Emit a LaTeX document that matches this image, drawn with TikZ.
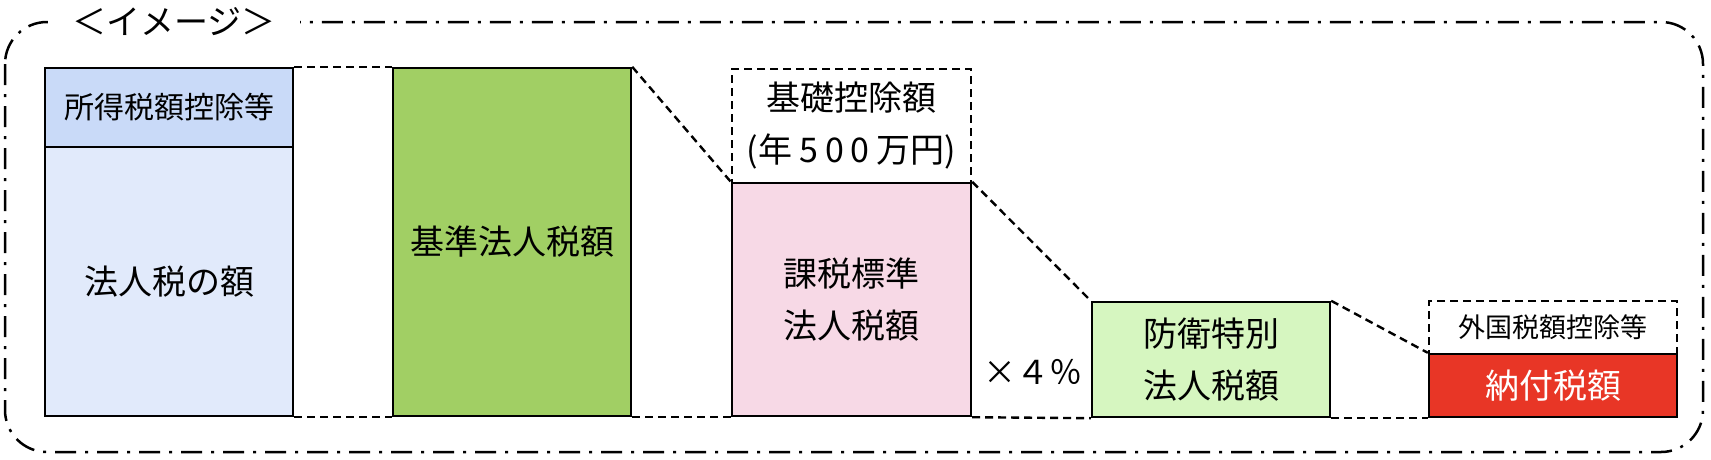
\documentclass[tikz,border=0pt]{standalone}
\usepackage{fontspec}
\setmainfont{Noto Sans CJK JP}
\usepackage{tikz}
\usetikzlibrary{positioning,calc}
\definecolor{deductblue}{RGB}{201,218,248}
\definecolor{paleblue}{RGB}{225,234,251}
\definecolor{basegreen}{RGB}{161,207,100}
\definecolor{palepink}{RGB}{247,217,230}
\definecolor{palegreen}{RGB}{214,246,192}
\definecolor{payred}{RGB}{232,54,38}
\tikzstyle{taxbox}=[draw,rectangle,line width=2.4pt,inner sep=0pt,align=center,font=\fontsize{34}{52}\selectfont]
\tikzstyle{dashbox}=[taxbox,dash pattern=on 8pt off 5pt]
\tikzstyle{link}=[line width=2.4pt,dash pattern=on 8pt off 5pt]
\tikzstyle{frame}=[line width=2.5pt,rounded corners=42pt,dash pattern=on 21pt off 9pt on 3pt off 9pt]

\begin{document}
\begin{tikzpicture}[x=1pt,y=-1pt]
\useasboundingbox (0,0) rectangle (1711,459);
\draw[frame] (5,22) rectangle (1703,452);
\draw (174,22) node [fill=white,inner xsep=24pt,font=\fontsize{34}{40}\selectfont] (title) {＜イメージ＞};
% boxes
\draw (169,107.5) node [taxbox,fill=deductblue,minimum width=248pt,minimum height=79pt,font=\fontsize{30}{36}\selectfont] (deduct) {所得税額控除等};
\draw (169,281.5) node [taxbox,fill=paleblue,minimum width=248pt,minimum height=269pt] (corptax) {法人税の額};
\draw (512,242) node [taxbox,fill=basegreen,minimum width=238pt,minimum height=348pt] (basetax) {基準法人税額};
\draw (851.5,126) node [dashbox,minimum width=239pt,minimum height=114pt] (basic) {基礎控除額\\(年\hspace{7pt}5\hspace{7pt}0\hspace{7pt}0\hspace{7pt}万円)};
\draw (851.5,299.5) node [taxbox,fill=palepink,minimum width=239pt,minimum height=233pt] (stdtax) {課税標準\\法人税額};
\draw (1211,359.5) node [taxbox,fill=palegreen,minimum width=238pt,minimum height=115pt] (defense) {防衛特別\\法人税額};
\draw (1553,327.5) node [dashbox,minimum width=248pt,minimum height=53pt,font=\fontsize{27}{32}\selectfont] (foreign) {外国税額控除等};
\draw (1553,385.5) node [taxbox,fill=payred,text=white,minimum width=248pt,minimum height=63pt] (payable) {納付税額};
\draw (1033,372) node [font=\fontsize{33}{40}\selectfont] (rate) {×４％};
% dashed links
\draw[link] (deduct.north east) -- (basetax.north west);
\draw[link] (corptax.south east) -- (basetax.south west);
\draw[link] (basetax.north east) -- (stdtax.north west);
\draw[link] (basetax.south east) -- (stdtax.south west);
\draw[link] (stdtax.north east) -- (defense.north west);
\draw[link] (stdtax.south east) -- (defense.south west);
\draw[link] (defense.north east) -- (payable.north west);
\draw[link] (defense.south east) -- (payable.south west);
\end{tikzpicture}
\end{document}
